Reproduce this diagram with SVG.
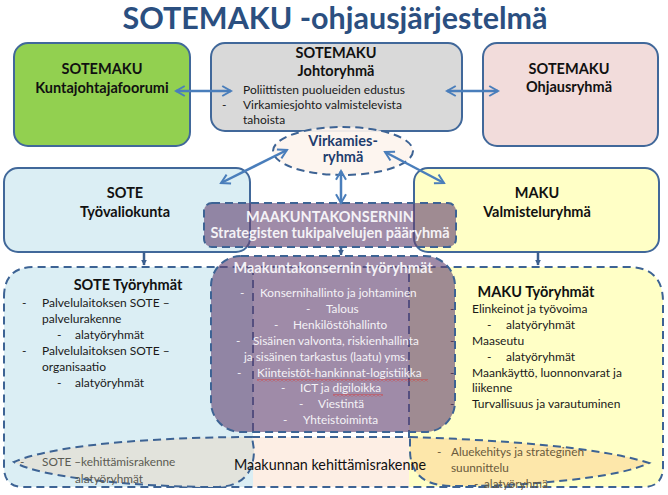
<svg xmlns="http://www.w3.org/2000/svg" width="668" height="495" viewBox="0 0 668 495">
<style>
text{font-family:Lato,"Open Sans","Liberation Sans",sans-serif;}
.box{stroke:#41689a;stroke-width:2;}
.dash{fill:none;stroke:#3d6394;stroke-width:2;stroke-dasharray:8,5;}
.t{font-weight:bold;font-size:14.5px;fill:#111;text-anchor:middle;}
.s{font-size:12px;fill:#1a1a1a;}
.w{font-size:11.8px;fill:#f4f2f6;}
.g{font-size:11.8px;fill:#5a5a52;}
.o{font-size:11.8px;fill:#6a5a3c;}
.arr{stroke:#4a7ebb;stroke-width:2.5;fill:none;marker-start:url(#ah);marker-end:url(#ah);}
.conn{stroke:#3b5f8f;stroke-width:2.5;fill:none;marker-end:url(#sh);}
.purple{fill:#644473;fill-opacity:0.62;}
</style>
<defs>
<marker id="ah" viewBox="0 0 10 10" refX="8.5" refY="5" markerWidth="5" markerHeight="5" orient="auto-start-reverse" markerUnits="strokeWidth">
<path d="M1.5,1 L8.5,5 L1.5,9" fill="none" stroke="#4a7ebb" stroke-width="1.6"/>
</marker>
<marker id="sh" viewBox="0 0 10 10" refX="9" refY="5" markerWidth="2.4" markerHeight="2.4" orient="auto" markerUnits="strokeWidth">
<path d="M0,0 L10,5 L0,10 Z" fill="#3b5f8f"/>
</marker>
<pattern id="wave" width="4" height="3" patternUnits="userSpaceOnUse">
<path d="M0,0.5 L2,2.5 L4,0.5" stroke="#e0302a" fill="none" stroke-width="0.8"/>
</pattern>
</defs>

<text x="335" y="29" font-size="30" font-weight="bold" fill="#2b4f80" text-anchor="middle" textLength="425" lengthAdjust="spacingAndGlyphs">SOTEMAKU -ohjausjärjestelmä</text>

<g id="regions">
<path d="M4,297 Q4,267 34,267 H253 V487 H24 Q4,487 4,467 Z" fill="#dbeef4"/>
<path d="M409,267 H628 Q663,267 663,302 V467 Q663,487 643,487 H409 Z" fill="#ffffc6"/>
<rect x="253" y="437" width="156" height="50" fill="#fdeee4"/>
<path class="dash" d="M4,297 Q4,267 34,267 H628 Q663,267 663,302 V467 Q663,487 643,487 H24 Q4,487 4,467 Z"/>
<path class="dash" d="M253,267 V437 H409 V267"/>
</g>

<g id="sote-kehittamis">
<path d="M252,437 C180,437 60,442 14,462 C40,478 140,487 215,487 C245,487 254,470 254,450 Z" fill="#e2e3dc"/>
<path class="dash" d="M252,437 C180,437 60,442 14,462 C40,478 140,487 215,487 C245,487 254,470 254,450 Z"/>
<text class="g" x="20" y="466">-<tspan x="42">SOTE –kehittämisrakenne</tspan></text>
<text class="g" x="75" y="483">alatyöryhmät</text>
</g>

<g id="aluekehitys">
<path d="M410,437 C500,440 600,447 649,463 C620,478 520,487 450,486 C420,485 410,470 410,450 Z" fill="#fde3a4" fill-opacity="0.85"/>
<path class="dash" d="M410,437 C500,440 600,447 649,463 C620,478 520,487 450,486 C420,485 410,470 410,450 Z"/>
<text class="o" x="437" y="456">-<tspan x="451">Aluekehitys ja strateginen</tspan></text>
<text class="o" x="451" y="472">suunnittelu</text>
<text class="o" x="474" y="488">-<tspan x="484">alatyöryhmä</tspan></text>
</g>

<g id="maakunnan-kehittamisrakenne">
<text x="330" y="470" font-size="15" fill="#111" text-anchor="middle" textLength="192" lengthAdjust="spacingAndGlyphs">Maakunnan kehittämisrakenne</text>
</g>

<g id="sote-tyoryhmat">
<text class="t" x="128" y="290" font-size="15">SOTE Työryhmät</text>
<text class="s" x="22" y="307">-</text>
<text class="s" x="42" y="307">Palvelulaitoksen SOTE –</text>
<text class="s" x="42" y="323">palvelurakenne</text>
<text class="s" x="57" y="339">-</text>
<text class="s" x="75" y="339">alatyöryhmät</text>
<text class="s" x="22" y="355">-</text>
<text class="s" x="42" y="355">Palvelulaitoksen  SOTE –</text>
<text class="s" x="42" y="371">organisaatio</text>
<text class="s" x="57" y="387">-</text>
<text class="s" x="75" y="387">alatyöryhmät</text>
</g>

<g id="maku-tyoryhmat">
<text class="t" x="536" y="297" font-size="15.5">MAKU Työryhmät</text>
<text class="s" x="450" y="313">-</text>
<text class="s" x="472" y="313">Elinkeinot ja työvoima</text>
<text class="s" x="487" y="329">-</text>
<text class="s" x="506" y="329">alatyöryhmät</text>
<text class="s" x="450" y="345">-</text>
<text class="s" x="472" y="345">Maaseutu</text>
<text class="s" x="487" y="361">-</text>
<text class="s" x="506" y="361">alatyöryhmät</text>
<text class="s" x="450" y="377">-</text>
<text class="s" x="472" y="377">Maankäyttö, luonnonvarat ja</text>
<text class="s" x="472" y="392">liikenne</text>
<text class="s" x="450" y="408">-</text>
<text class="s" x="472" y="408">Turvallisuus ja varautuminen</text>
</g>

<g id="kuntajohtajafoorumi">
<rect class="box" x="14" y="43" width="176" height="103" rx="14" fill="#92d050"/>
<text class="t" x="102" y="74">SOTEMAKU</text>
<text class="t" x="102" y="93">Kuntajohtajafoorumi</text>
</g>

<g id="johtoryhma">
<rect class="box" x="211" y="43" width="251" height="88" rx="14" fill="#d9d9d9"/>
<text class="t" x="336" y="58">SOTEMAKU</text>
<text class="t" x="336" y="76">Johtoryhmä</text>
<text class="s" x="243" y="94">Poliittisten puolueiden edustus</text>
<text class="s" x="222" y="109">-</text>
<text class="s" x="243" y="109">Virkamiesjohto valmistelevista</text>
<text class="s" x="243" y="124">tahoista</text>
</g>

<g id="ohjausryhma">
<rect class="box" x="483" y="43" width="175" height="103" rx="14" fill="#f2dcdb"/>
<text class="t" x="569" y="74">SOTEMAKU</text>
<text class="t" x="569" y="92">Ohjausryhmä</text>
</g>

<g id="virkamiesryhma">
<ellipse cx="343" cy="151" rx="70" ry="24" fill="#fdf4ee" fill-opacity="0.92"/>
<ellipse class="dash" cx="343" cy="151" rx="70" ry="24"/>
<text class="t" x="343" y="146" style="fill:#1f3d6e">Virkamies-</text>
<text class="t" x="343" y="162" style="fill:#1f3d6e">ryhmä</text>
</g>

<g id="tyovaliokunta">
<rect class="box" x="4" y="168" width="246" height="84" rx="14" fill="#dbeef4"/>
<text class="t" x="125" y="198">SOTE</text>
<text class="t" x="125" y="217">Työvaliokunta</text>
</g>

<g id="valmisteluryhma">
<rect class="box" x="414" y="168" width="245" height="84" rx="14" fill="#ffffc6"/>
<text class="t" x="537" y="198">MAKU</text>
<text class="t" x="537" y="217">Valmisteluryhmä</text>
</g>

<g id="paaryhma">
<rect class="purple" x="204" y="203" width="252" height="44" rx="8"/>
<rect class="dash" x="204" y="203" width="252" height="44" rx="8"/>
<text class="t" x="330" y="222" font-size="14" style="fill:#f4f2f6">MAAKUNTAKONSERNIN</text>
<text class="t" x="330" y="238" font-size="13.2" style="fill:#f4f2f6">Strategisten tukipalvelujen pääryhmä</text>
</g>

<g id="konserni-tyoryhmat">
<rect class="purple" x="211" y="256" width="244" height="176" rx="30"/>
<rect class="dash" x="211" y="256" width="244" height="176" rx="30"/>
<text class="t" x="333" y="273" font-size="14" style="fill:#f4f2f6">Maakuntakonsernin  työryhmät</text>
<text class="w" x="240" y="297">-</text>
<text class="w" x="260" y="297">Konsernihallinto ja johtaminen</text>
<text class="w" x="306" y="313">-</text>
<text class="w" x="326" y="313">Talous</text>
<text class="w" x="274" y="329">-</text>
<text class="w" x="293" y="329">Henkilöstöhallinto</text>
<text class="w" x="236" y="345">-</text>
<text class="w" x="253" y="345">Sisäinen valvonta, riskienhallinta</text>
<text class="w" x="244" y="361">ja  sisäinen tarkastus (laatu) yms.</text>
<text class="w" x="237" y="377">-</text>
<text class="w" x="257" y="377">Kiinteistöt-hankinnat-logistiikka</text>
<rect x="257" y="379" width="171" height="3" fill="url(#wave)"/>
<text class="w" x="281" y="392">-</text>
<text class="w" x="300" y="392">ICT ja digiloikka</text>
<rect x="333" y="394" width="50" height="3" fill="url(#wave)"/>
<text class="w" x="299" y="408">-</text>
<text class="w" x="318" y="408">Viestintä</text>
<text class="w" x="283" y="424">-</text>
<text class="w" x="303" y="424">Yhteistoiminta</text>
</g>

<g id="connectors">
<line class="arr" x1="176" y1="91" x2="231" y2="91"/>
<line class="arr" x1="447" y1="91" x2="498" y2="91"/>
<line class="arr" x1="287" y1="150" x2="221" y2="183"/>
<line class="arr" x1="385" y1="152" x2="444" y2="183"/>
<line class="arr" x1="341" y1="171" x2="341" y2="203"/>
<line class="conn" x1="144" y1="252" x2="144" y2="265"/>
<line class="conn" x1="538" y1="252" x2="538" y2="265"/>
<line class="conn" x1="341" y1="247" x2="341" y2="255"/>
</g>
</svg>
